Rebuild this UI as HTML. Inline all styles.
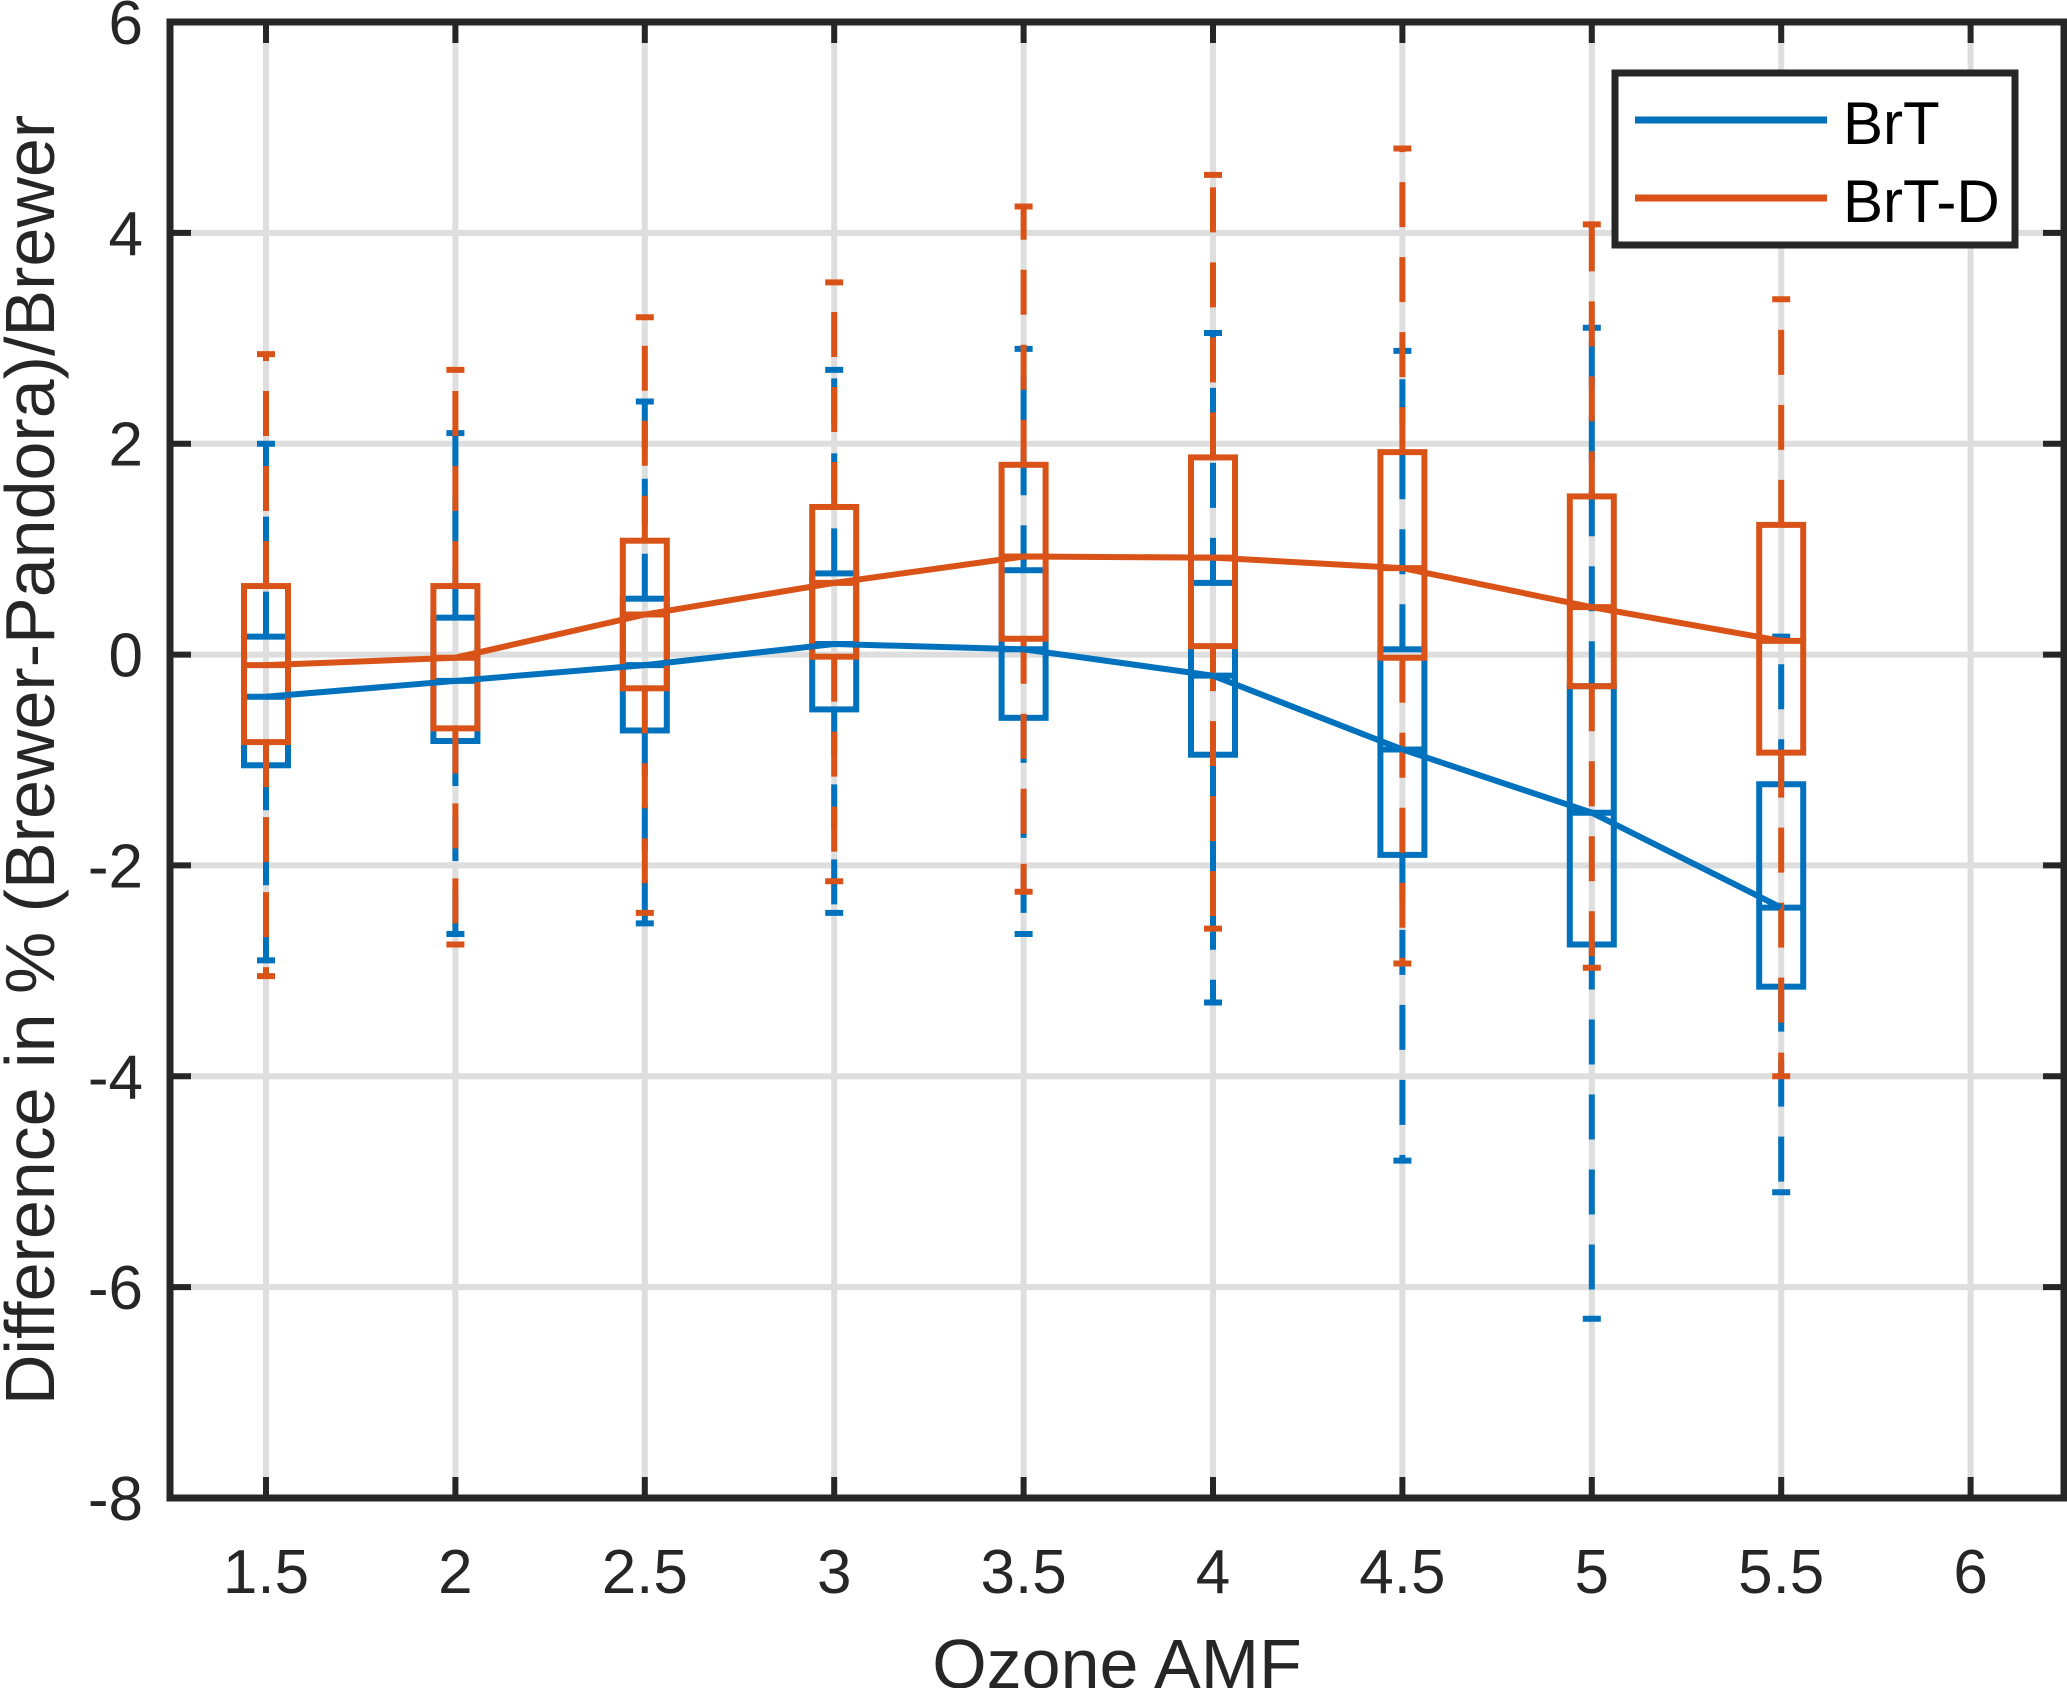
<!DOCTYPE html>
<html><head><meta charset="utf-8"><style>
html,body{margin:0;padding:0;background:#fff;}
svg{display:block;font-family:"Liberation Sans",Arial,sans-serif;}
</style></head><body>
<svg id="chart" width="2067" height="1688" viewBox="0 0 2067 1688" xmlns="http://www.w3.org/2000/svg">
<g id="grid"></g>
<g id="series"></g>
<g id="axes"></g>
<text x="1117" y="1688" font-size="70" text-anchor="middle" fill="#262626">Ozone AMF</text>
<text transform="translate(54,760) rotate(-90)" font-size="70" text-anchor="middle" fill="#262626">Difference in % (Brewer-Pandora)/Brewer</text>
<g>
<rect x="1615" y="73" width="400" height="172" fill="#fff" stroke="#262626" stroke-width="7"/>
<line x1="1635" y1="120" x2="1827" y2="120" stroke="#0072BD" stroke-width="7"/>
<text x="1843" y="144" font-size="60" fill="#000">BrT</text>
<line x1="1635" y1="198" x2="1827" y2="198" stroke="#D95319" stroke-width="7"/>
<text x="1843" y="222" font-size="60" fill="#000">BrT-D</text>
</g>
</svg>
<script>
const categories = [1.5, 2, 2.5, 3, 3.5, 4, 4.5, 5, 5.5];
const xTicks = [1.5, 2, 2.5, 3, 3.5, 4, 4.5, 5, 5.5, 6];
const xTickLabels = ["1.5","2","2.5","3","3.5","4","4.5","5","5.5","6"];
const yTicks = [-8, -6, -4, -2, 0, 2, 4, 6];
const yTickLabels = ["-8","-6","-4","-2","0","2","4","6"];
const brtMedian = [-0.4, -0.25, -0.1, 0.1, 0.05, -0.2, -0.9, -1.5, -2.4];
const brtQ1 = [-1.05, -0.82, -0.72, -0.52, -0.6, -0.95, -1.9, -2.75, -3.15];
const brtQ3 = [0.17, 0.35, 0.53, 0.77, 0.8, 0.68, 0.05, -0.3, -1.23];
const brtLow = [-2.9, -2.65, -2.55, -2.45, -2.65, -3.3, -4.8, -6.3, -5.1];
const brtHigh = [2.0, 2.1, 2.4, 2.7, 2.9, 3.05, 2.88, 3.1, 0.17];
const brtdMedian = [-0.1, -0.03, 0.38, 0.68, 0.93, 0.92, 0.82, 0.45, 0.13];
const brtdQ1 = [-0.83, -0.7, -0.32, -0.02, 0.15, 0.08, -0.03, -0.3, -0.93];
const brtdQ3 = [0.65, 0.65, 1.08, 1.4, 1.8, 1.87, 1.92, 1.5, 1.23];
const brtdLow = [-3.05, -2.75, -2.45, -2.15, -2.25, -2.6, -2.93, -2.97, -4.0];
const brtdHigh = [2.85, 2.7, 3.2, 3.53, 4.25, 4.55, 4.8, 4.08, 3.37];

const L=170, R=2064, T=22, B=1498;
const yMin=-8, yMax=6;
function xs(v){ return 266 + (v-1.5)*378.8; }
function ys(v){ return T + (yMax-v)*(B-T)/(yMax-yMin); }
const NS="http://www.w3.org/2000/svg";
function mk(parent, tag, attrs){ const e=document.createElementNS(NS,tag); for(const k in attrs) e.setAttribute(k, attrs[k]); parent.appendChild(e); return e; }

const grid=document.getElementById('grid');
xTicks.forEach(function(t){
  const e=mk(grid,'line',{x1:xs(t),x2:xs(t),y1:T,y2:B,stroke:'#dedede','stroke-width':6});
  
  
});
yTicks.forEach(function(t){
  const e=mk(grid,'line',{x1:L,x2:R,y1:ys(t),y2:ys(t),stroke:'#dedede','stroke-width':6});
  
  
});

const series=document.getElementById('series');
function drawSeries(name, color, med, q1, q3, lo, hi){
  const g=mk(series,'g',{});
  
  
  const hw=22, cw=9;
  categories.forEach(function(c,i){
    const x=xs(c);
    const w1=mk(g,'line',{x1:x,x2:x,y1:ys(q3[i]),y2:ys(hi[i]),stroke:color,'stroke-width':6,'stroke-dasharray':'45 30'});
    
    
    const w2=mk(g,'line',{x1:x,x2:x,y1:ys(q1[i]),y2:ys(lo[i]),stroke:color,'stroke-width':6,'stroke-dasharray':'45 30'});
    
    
    const c1=mk(g,'line',{x1:x-cw,x2:x+cw,y1:ys(hi[i]),y2:ys(hi[i]),stroke:color,'stroke-width':6});
    
    
    const c2=mk(g,'line',{x1:x-cw,x2:x+cw,y1:ys(lo[i]),y2:ys(lo[i]),stroke:color,'stroke-width':6});
    
    
    const b=mk(g,'rect',{x:x-hw,y:ys(q3[i]),width:2*hw,height:ys(q1[i])-ys(q3[i]),fill:'none',stroke:color,'stroke-width':6});
    
    
    const m=mk(g,'line',{x1:x-hw,x2:x+hw,y1:ys(med[i]),y2:ys(med[i]),stroke:color,'stroke-width':6});
    
    
  });
}
function drawLine(name,color,med){
  const p=mk(series,'polyline',{points:categories.map(function(c,i){return xs(c)+','+ys(med[i]);}).join(' '),fill:'none',stroke:color,'stroke-width':6});
  
  
}
drawSeries('brt','#0072BD',brtMedian,brtQ1,brtQ3,brtLow,brtHigh);
drawSeries('brt-d','#D95319',brtdMedian,brtdQ1,brtdQ3,brtdLow,brtdHigh);
drawLine('brt','#0072BD',brtMedian);
drawLine('brt-d','#D95319',brtdMedian);

const axes=document.getElementById('axes');
const fr=mk(axes,'rect',{x:L,y:T,width:R-L,height:B-T,fill:'none',stroke:'#262626','stroke-width':7});


xTicks.forEach(function(t,i){
  const x=xs(t);
  const a=mk(axes,'line',{x1:x,x2:x,y1:B,y2:B-21,stroke:'#262626','stroke-width':6});
  
  
  const b=mk(axes,'line',{x1:x,x2:x,y1:T,y2:T+21,stroke:'#262626','stroke-width':6});
  
  
  const tx=mk(axes,'text',{x:x,y:1593,'font-size':62,'text-anchor':'middle',fill:'#262626'});
  tx.textContent=xTickLabels[i];
  
  
});
yTicks.forEach(function(t,i){
  const y=ys(t);
  const a=mk(axes,'line',{x1:L,x2:L+21,y1:y,y2:y,stroke:'#262626','stroke-width':6});
  
  
  const b=mk(axes,'line',{x1:R,x2:R-21,y1:y,y2:y,stroke:'#262626','stroke-width':6});
  
  
  const tx=mk(axes,'text',{x:143,y:y+22,'font-size':62,'text-anchor':'end',fill:'#262626'});
  tx.textContent=yTickLabels[i];
  
  
});
</script>
</body></html>
